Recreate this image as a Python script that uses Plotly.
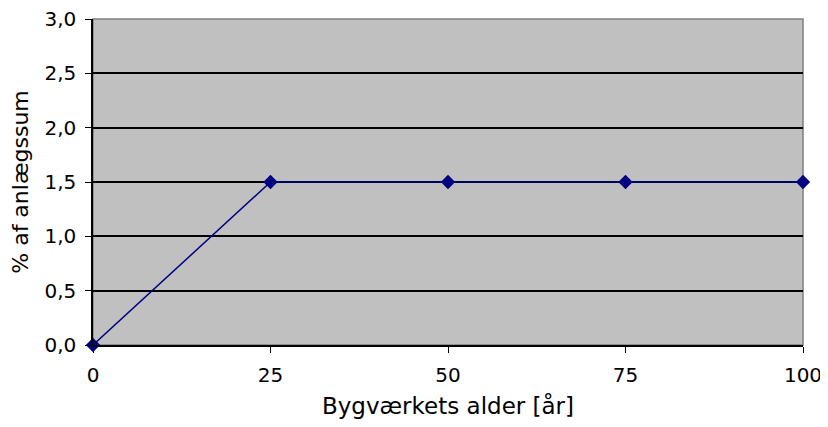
import plotly.graph_objects as go

ages = [0, 25, 50, 75, 100]
pct = [0.0, 1.5, 1.5, 1.5, 1.5]
y_ticks = [0.0, 0.5, 1.0, 1.5, 2.0, 2.5, 3.0]
x_ticks = [0, 25, 50, 75, 100]

font = dict(family="DejaVu Sans, Verdana", size=20, color="black")
xtitle_font = dict(family="DejaVu Sans, Verdana", size=23, color="black")
ytitle_font = dict(family="DejaVu Sans, Verdana", size=22, color="black")

fig = go.Figure()
fig.add_trace(go.Scatter(
    x=ages, y=pct, mode="lines+markers",
    line=dict(color="#000080", width=1.5),
    marker=dict(symbol="diamond", size=11, color="#000080"),
    cliponaxis=False,
))
fig.update_layout(
    width=820, height=411,
    margin=dict(l=85, r=25, t=11, b=74),
    paper_bgcolor="white", plot_bgcolor="#C0C0C0",
    separators=",.",
    showlegend=False,
    font=font,
    shapes=[dict(type="rect", xref="paper", yref="paper", x0=0, x1=1, y0=0, y1=1,
                 line=dict(color="#808080", width=1.5), layer="below")],
)
fig.update_xaxes(
    range=[0, 100], tickvals=x_ticks, ticks="outside", ticklen=6, tickcolor="black",
    showline=True, linecolor="black", linewidth=1.5, showgrid=False, zeroline=False,
    title=dict(text="Bygværkets alder [år]", font=xtitle_font, standoff=14),
    tickfont=font, ticklabelstandoff=5, ticklabeloverflow="allow", automargin=False,
)
fig.update_yaxes(
    range=[0, 3], tickvals=y_ticks, tickformat=".1f", ticks="outside", ticklen=6, tickcolor="black",
    showline=True, linecolor="black", linewidth=1.5, showgrid=True, gridcolor="black", gridwidth=1.5,
    zeroline=False,
    title=dict(text="% af anlægssum", font=ytitle_font, standoff=14),
    tickfont=font, ticklabelstandoff=5, ticklabeloverflow="allow", automargin=False,
)
fig.write_html("out.html")
